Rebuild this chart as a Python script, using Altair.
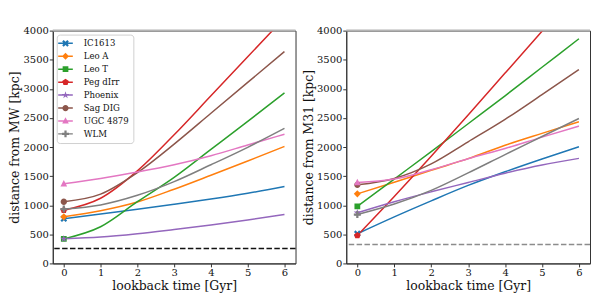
import altair as alt
import pandas as pd

# ---------------- data ----------------
times = [0, 1, 2, 3, 4, 5, 6]
galaxies = ["IC1613", "Leo A", "Leo T", "Peg dIrr", "Phoenix", "Sag DIG", "UGC 4879", "WLM"]
colors = ["#1f77b4", "#ff7f0e", "#2ca02c", "#d62728", "#9467bd", "#8c564b", "#e377c2", "#7f7f7f"]
y_ticks = [0, 500, 1000, 1500, 2000, 2500, 3000, 3500, 4000]

# distance from MW [kpc] vs lookback time
mw_ic1613 = [768, 850, 930, 1015, 1105, 1205, 1320]
mw_leoa = [800, 905, 1055, 1275, 1515, 1760, 2010]
mw_leot = [422, 630, 1060, 1480, 1960, 2440, 2930]
mw_peg = [915, 1120, 1590, 2210, 2880, 3550, 4220]
mw_phoenix = [422, 452, 510, 583, 660, 745, 840]
mw_sagdig = [1060, 1190, 1560, 2050, 2580, 3110, 3640]
mw_ugc4879 = [1368, 1460, 1570, 1695, 1850, 2035, 2220]
mw_wlm = [935, 1005, 1170, 1405, 1695, 1995, 2320]

# distance from M31 [kpc] vs lookback time
m31_ic1613 = [510, 800, 1075, 1340, 1575, 1795, 2005]
m31_leoa = [1195, 1395, 1600, 1800, 2030, 2235, 2435]
m31_leot = [980, 1450, 1920, 2400, 2880, 3370, 3860]
m31_peg = [480, 1150, 1840, 2550, 3270, 3990, 4710]
m31_phoenix = [870, 1060, 1230, 1390, 1550, 1690, 1805]
m31_sagdig = [1350, 1460, 1710, 2090, 2475, 2900, 3330]
m31_ugc4879 = [1390, 1450, 1610, 1800, 1975, 2170, 2360]
m31_wlm = [840, 1020, 1255, 1555, 1870, 2180, 2490]

mw_ref = 258    # dashed reference line, MW panel
m31_ref = 325   # dashed reference line, M31 panel

mw_series = [mw_ic1613, mw_leoa, mw_leot, mw_peg, mw_phoenix, mw_sagdig, mw_ugc4879, mw_wlm]
m31_series = [m31_ic1613, m31_leoa, m31_leot, m31_peg, m31_phoenix, m31_sagdig, m31_ugc4879, m31_wlm]

# ---------------- marker shapes ----------------
P_X = "M0.52,-0.96L0.96,-0.52L0.44,0L0.96,0.52L0.52,0.96L0,0.44L-0.52,0.96L-0.96,0.52L-0.44,0L-0.96,-0.52L-0.52,-0.96L0,-0.44Z"
P_DIAMOND = "M0,-1L1,0L0,1L-1,0Z"
P_SQUARE = "M-0.82,-0.82H0.82V0.82H-0.82Z"
P_PENTAGON = "M0,-1L0.951,-0.309L0.588,0.809L-0.588,0.809L-0.951,-0.309Z"
P_STAR = "M0,-1.1L0.247,-0.34L1.046,-0.34L0.4,0.13L0.647,0.89L0,0.42L-0.647,0.89L-0.4,0.13L-1.046,-0.34L-0.247,-0.34Z"
P_CIRCLE = "M0.9,0A0.9,0.9,0,1,1,-0.9,0A0.9,0.9,0,1,1,0.9,0Z"
P_TRIANGLE = "M0,-1.05L0.95,0.75L-0.95,0.75Z"
P_PLUS = "M-0.32,-1H0.32V-0.32H1V0.32H0.32V1H-0.32V0.32H-1V-0.32H-0.32Z"
marker_paths = [P_X, P_DIAMOND, P_SQUARE, P_PENTAGON, P_STAR, P_CIRCLE, P_TRIANGLE, P_PLUS]
LINE_SEG = "M-2.1,-0.21H2.1V0.21H-2.1Z"
legend_paths = [p + LINE_SEG for p in marker_paths]


def long_df(series):
    rows = []
    for g, vals in zip(galaxies, series):
        for t, v in zip(times, vals):
            rows.append({"galaxy": g, "t": t, "d": v})
    return pd.DataFrame(rows)


FONT = "DejaVu Serif"


def panel(series, ytitle, ref_value, ref_color, with_legend, width):
    df = long_df(series)
    base = alt.Chart(df)
    x = alt.X("t:Q", scale=alt.Scale(domain=[-0.3, 6.3], nice=False, zero=False),
              axis=alt.Axis(values=times, format="d", labelOverlap=False,
                            title="lookback time [Gyr]", labelPadding=1, titlePadding=1.5))
    yaxis = alt.Axis(values=y_ticks, format="d", labelOverlap=False, title=ytitle,
                     labelPadding=1, titlePadding=1)
    yscale = alt.Scale(domain=[0, 4000], nice=False)
    y = alt.Y("d:Q", scale=yscale, axis=yaxis)
    color = alt.Color("galaxy:N", scale=alt.Scale(domain=galaxies, range=colors), legend=None)

    lines = base.mark_line(clip=True, interpolate="monotone", strokeWidth=1.5).encode(
        x=x, y=y, color=color, detail="galaxy:N")

    markers = base.transform_filter("datum.t == 0").mark_point(
        filled=True, size=50, opacity=1, clip=True).encode(
        x=x, y=y, color=color,
        shape=alt.Shape("galaxy:N", scale=alt.Scale(domain=galaxies, range=marker_paths), legend=None))

    ref = alt.Chart(pd.DataFrame({"d": [ref_value]})).mark_rule(
        strokeDash=[5.5, 2.4], strokeWidth=1.5, color=ref_color).encode(y=y)
    top = alt.Chart(pd.DataFrame({"d": [4000]})).mark_rule(
        strokeWidth=2, color="#b3b3b3").encode(y=y)

    layers = [lines, markers, ref, top]
    if with_legend:
        leg = alt.Legend(orient="top-left", offset=4, padding=4.5, title=None,
                         fillColor="white", strokeColor="#d0d0d0", cornerRadius=3,
                         labelFont=FONT, labelFontSize=8.6, labelColor="#111",
                         labelOffset=14, symbolSize=49, symbolStrokeWidth=0,
                         rowPadding=4, symbolOpacity=1)
        legend_layer = base.transform_filter("datum.t < -100").mark_point(
            filled=True, size=49, opacity=1).encode(
            color=alt.Color("galaxy:N", scale=alt.Scale(domain=galaxies, range=colors), legend=leg),
            shape=alt.Shape("galaxy:N", scale=alt.Scale(domain=galaxies, range=legend_paths), legend=leg))
        layers.append(legend_layer)
    return alt.layer(*layers).resolve_scale(color="independent", shape="independent").properties(
        width=width, height=234)


left = panel(mw_series, "distance from MW [kpc]", mw_ref, "#111111", True, 244)
right = panel(m31_series, "distance from M31 [kpc]", m31_ref, "#8c8c8c", False, 245)

chart = alt.hconcat(left, right, spacing=4).resolve_scale(
    color="independent", shape="independent"
).properties(
    padding={"left": 0, "top": 16, "right": 0, "bottom": 0}
).configure_view(
    stroke="#333333", strokeWidth=1
).configure_axis(
    labelFont=FONT, titleFont=FONT, labelFontSize=10, titleFontSize=12.5,
    titleFontWeight="normal", labelColor="#111111", titleColor="#111111",
    tickColor="#333333", domainColor="#333333", tickSize=3.5, grid=False
)

chart.save("out.html", embed_options={"renderer": "svg", "actions": False})
